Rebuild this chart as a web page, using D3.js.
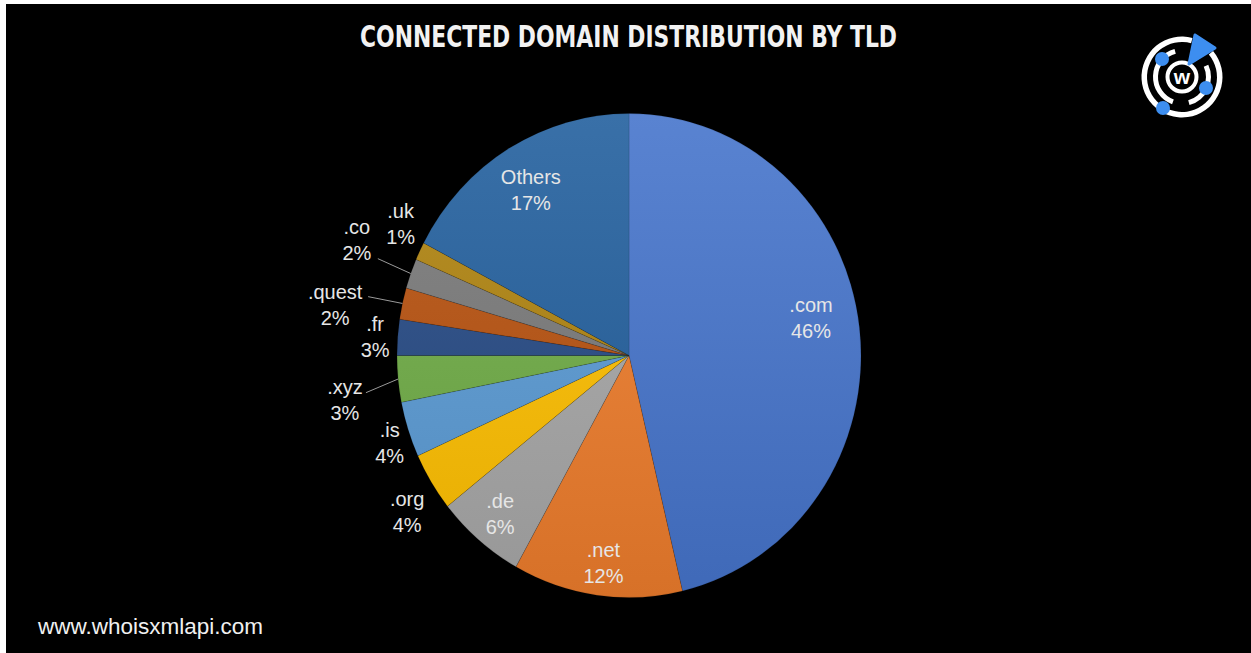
<!DOCTYPE html>
<html>
<head>
<meta charset="utf-8">
<script src="https://cdn.jsdelivr.net/npm/d3@7/dist/d3.min.js"></script>
<style>
  html, body { margin: 0; padding: 0; background: #fff; }
  svg { display: block; }
</style>
</head>
<body>
<svg width="1251" height="653"></svg>
<script>
// data (share of connected domains, %)
var tlds = [".com", ".net", ".de", ".org", ".is", ".xyz", ".fr", ".quest", ".co", ".uk", "Others"];
var shares = [46.3, 11.8, 6.2, 3.9, 3.7, 3.1, 2.4, 2.1, 2.0, 1.2, 17.3];
var shareLabels = ["46%", "12%", "6%", "4%", "4%", "3%", "3%", "2%", "2%", "1%", "17%"];
var colors = ["#4675CC", "#EF7D2C", "#A8A8A8", "#FFC000", "#5B9BD5", "#70AD47",
              "#264A85", "#B8520F", "#7A7A7A", "#B08410", "#23609E"];

// label layout: radius factor + angle nudge (deg), optional leader start offset
var labelLayout = {
  ".com":   { r: 0.80, da: -4.6 },
  ".net":   { r: 0.865, da: -0.6 },
  ".de":    { r: 0.858, da: 0 },
  ".org":   { r: 1.155, da: -2.6 },
  ".is":    { r: 1.093, da: -1.5 },
  ".xyz":   { r: 1.238, da: -2.9, lead: [21, -7] },
  ".fr":    { r: 1.097, da: -0.3 },
  ".quest": { r: 1.284, da: -3.0, lead: [33, -8] },
  ".co":    { r: 1.267, da: 2.4, lead: [21, 19] },
  ".uk":    { r: 1.125, da: 3.4 },
  "Others": { r: 0.804, da: -0.6 }
};

var svg = d3.select("svg");
var W = 1251, H = 653;

// frame: white strip top & left, black canvas
svg.append("rect").attr("width", W).attr("height", H).attr("fill", "#fff");
svg.append("rect").attr("x", 6).attr("y", 4).attr("width", W - 6).attr("height", H - 4).attr("fill", "#000");

svg.append("text")
    .attr("x", 360).attr("y", 47)
    .attr("textLength", 537).attr("lengthAdjust", "spacingAndGlyphs")
    .attr("font-family", "'DejaVu Sans Condensed', 'Liberation Sans Narrow', sans-serif")
    .attr("font-weight", "bold").attr("font-size", 30)
    .attr("fill", "#f2f2f2")
    .text("CONNECTED DOMAIN DISTRIBUTION BY TLD");

svg.append("text")
    .attr("x", 38).attr("y", 634)
    .attr("font-family", "'Liberation Sans', Arial, sans-serif")
    .attr("font-size", 22.5)
    .attr("fill", "#f0f0f0")
    .text("www.whoisxmlapi.com");

// pie
var cx = 629, cy = 355.5, rx = 232, ry = 242;
var data = tlds.map(function(t, i) { return { tld: t, share: shares[i], label: shareLabels[i], color: colors[i] }; });

var pie = d3.pie().sort(null).value(function(d) { return d.share; });
var arcs = pie(data);
var arc = d3.arc().innerRadius(0).outerRadius(rx);

var defs = svg.append("defs");
arcs.forEach(function(a, i) {
  var g = defs.append("linearGradient")
      .attr("id", "grad" + i)
      .attr("gradientUnits", "userSpaceOnUse")
      .attr("x1", 0).attr("y1", -rx).attr("x2", 0).attr("y2", rx);
  g.append("stop").attr("offset", 0).attr("stop-color", d3.interpolateRgb(a.data.color, "#fff")(0.1));
  g.append("stop").attr("offset", 1).attr("stop-color", d3.interpolateRgb(a.data.color, "#000")(0.1));
});

var pg = svg.append("g").attr("transform", "translate(" + cx + "," + cy + ") scale(1," + (ry / rx) + ")");
pg.selectAll("path")
  .data(arcs)
  .enter().append("path")
    .attr("d", arc)
    .attr("fill", function(d, i) { return "url(#grad" + i + ")"; })
    .attr("stroke", "rgba(0,0,0,0.18)")
    .attr("stroke-width", 0.6);

function pt(angle, k) {
  return [cx + Math.sin(angle) * rx * k, cy - Math.cos(angle) * ry * k];
}

var lg = svg.append("g")
    .attr("font-family", "'Liberation Sans', Arial, sans-serif")
    .attr("font-size", 20)
    .attr("fill", "#e6e6e6")
    .attr("text-anchor", "middle");

arcs.forEach(function(a) {
  var lay = labelLayout[a.data.tld];
  var mid = (a.startAngle + a.endAngle) / 2;
  var p = pt(mid + lay.da * Math.PI / 180, lay.r);
  var t = lg.append("text");
  t.append("tspan").attr("x", p[0]).attr("y", p[1] - 6).text(a.data.tld);
  t.append("tspan").attr("x", p[0]).attr("y", p[1] + 20).text(a.data.label);
  if (lay.lead) {
    var e = pt(mid, 1);
    svg.append("line")
        .attr("x1", p[0] + lay.lead[0]).attr("y1", p[1] + lay.lead[1])
        .attr("x2", e[0]).attr("y2", e[1])
        .attr("stroke", "#9a9a9a").attr("stroke-width", 1);
  }
});

// logo
var logo = svg.append("g").attr("transform", "translate(1182,77)");
var ring = d3.arc();
logo.append("path")
    .attr("d", ring({ innerRadius: 35, outerRadius: 40.5, startAngle: 50 * Math.PI / 180, endAngle: 375 * Math.PI / 180 }))
    .attr("fill", "#fff");
logo.append("path")
    .attr("d", ring({ innerRadius: 24, outerRadius: 29, startAngle: 200 * Math.PI / 180, endAngle: 345 * Math.PI / 180 }))
    .attr("fill", "#fff");
logo.append("path")
    .attr("d", ring({ innerRadius: 24, outerRadius: 29, startAngle: 65 * Math.PI / 180, endAngle: 165 * Math.PI / 180 }))
    .attr("fill", "#fff");
logo.append("circle").attr("r", 14.5).attr("fill", "none").attr("stroke", "#fff").attr("stroke-width", 4);
logo.append("text")
    .attr("y", 7).attr("text-anchor", "middle")
    .attr("font-family", "'Liberation Sans', Arial, sans-serif")
    .attr("font-weight", "bold").attr("font-size", 21)
    .attr("fill", "#fff").text("w");
logo.append("path")
    .attr("d", "M13,-42 L33,-29 L7,-13 Z")
    .attr("fill", "#3d8ef0").attr("stroke", "#3d8ef0").attr("stroke-width", 3).attr("stroke-linejoin", "round");
[[-20, -18], [24, 11], [-19, 31]].forEach(function(c) {
  logo.append("circle").attr("cx", c[0]).attr("cy", c[1]).attr("r", 7).attr("fill", "#3d8ef0");
});
</script>
</body>
</html>
